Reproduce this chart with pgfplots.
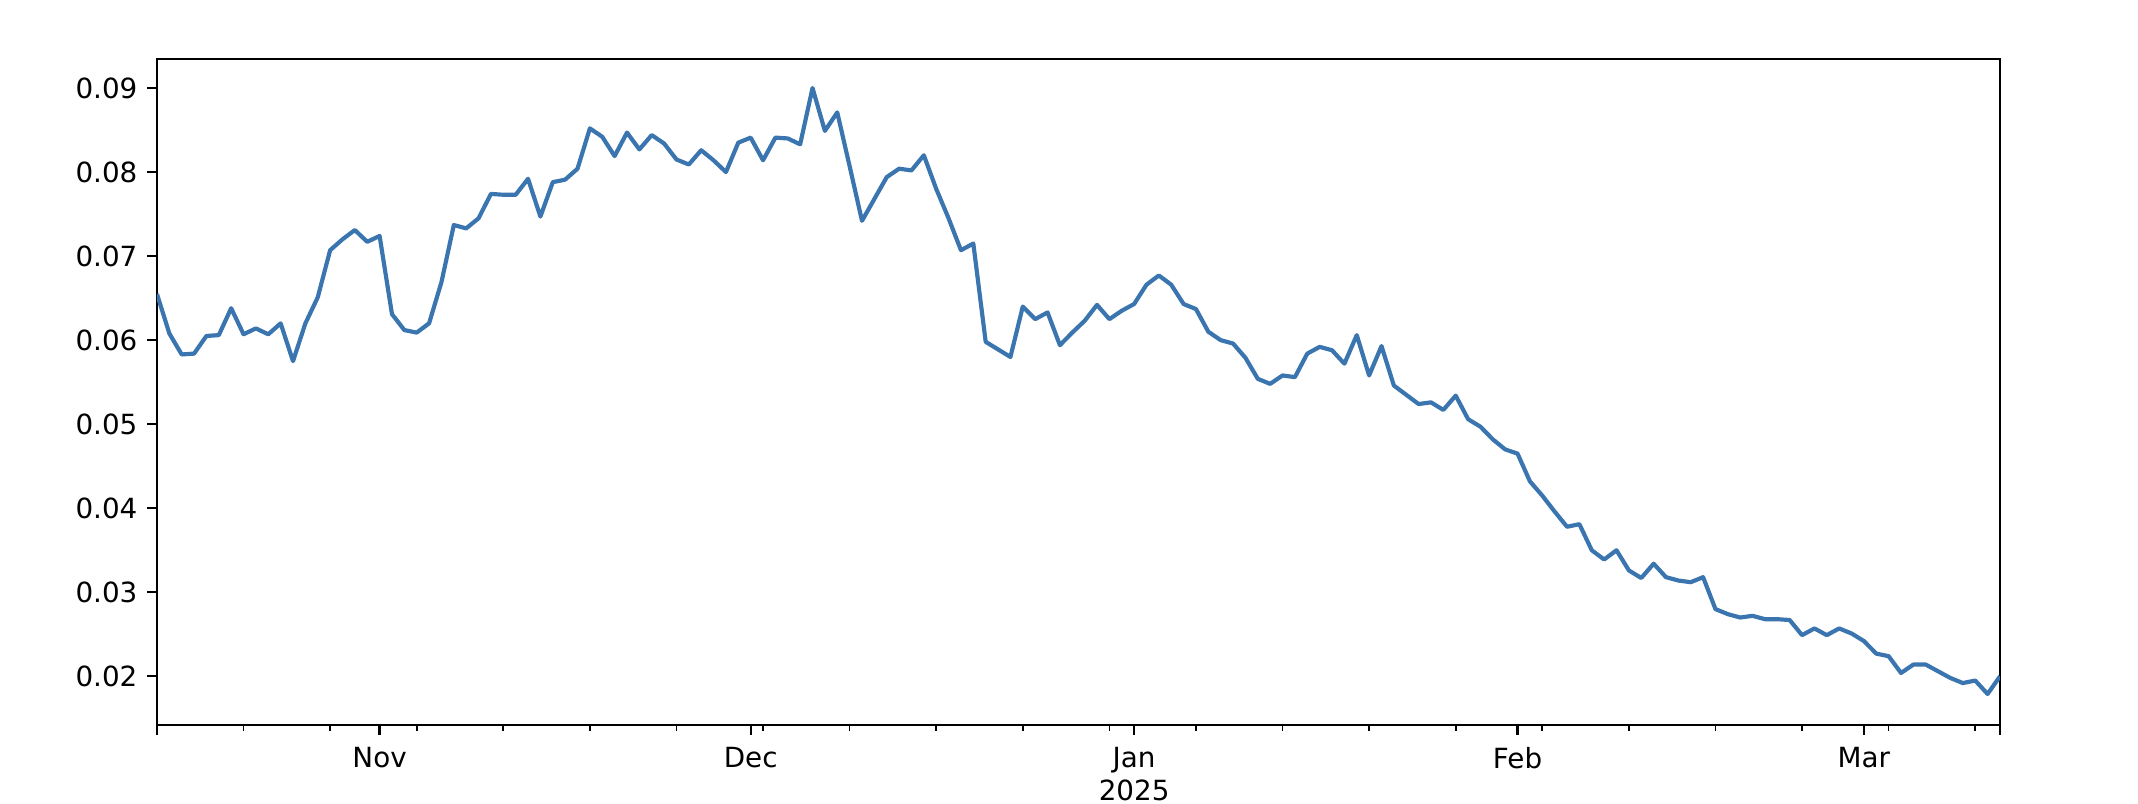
\documentclass[border=0pt]{standalone}
\usepackage{fontspec}
\setmainfont{DejaVu Sans}
\usepackage{pgfplots}
\pgfplotsset{compat=1.18}
\definecolor{lineblue}{RGB}{58,117,175}
\begin{document}
\begin{tikzpicture}
\begin{axis}[
  name=ax,
  scale only axis,
  width=663.4pt, height=239.9pt,
  xmin=0, xmax=149,
  ymin=0.0142, ymax=0.0935,
  axis line style={line width=0.8pt},
  tick align=outside,
  tick pos=left,
  major tick length=3.5pt,
  minor tick length=2pt,
  every tick/.style={black, line width=0.8pt},
  every minor tick/.style={black, line width=0.6pt},
  xtick={0,18,48,79,110,138,149},
  xticklabels={{},Nov,Dec,{Jan\\2025},Feb,Mar,{}},
  minor xtick={7,14,21,28,35,42,49,56,63,70,77,84,91,98,105,112,119,126,133,140,147},
  ytick={0.02,0.03,0.04,0.05,0.06,0.07,0.08,0.09},
  yticklabel style={/pgf/number format/.cd, fixed, fixed zerofill, precision=2, assume math mode=true},
  xticklabel style={align=center, font=\fontsize{10}{12}\selectfont, yshift=-1pt},
  ticklabel style={font=\fontsize{10}{12}\selectfont},
  scaled y ticks=false,
  clip=true,
]
\addplot[lineblue, line width=1.5pt, line join=round, mark=none] table {
x y
0 0.0655
1 0.0608
2 0.0583
3 0.0584
4 0.0605
5 0.0606
6 0.0638
7 0.0607
8 0.0614
9 0.0607
10 0.0620
11 0.0575
12 0.0620
13 0.0651
14 0.0707
15 0.0720
16 0.0731
17 0.0717
18 0.0724
19 0.0631
20 0.0612
21 0.0609
22 0.0620
23 0.0669
24 0.0737
25 0.0733
26 0.0745
27 0.0774
28 0.0773
29 0.0773
30 0.0792
31 0.0747
32 0.0788
33 0.0791
34 0.0804
35 0.0852
36 0.0842
37 0.0819
38 0.0847
39 0.0827
40 0.0844
41 0.0834
42 0.0815
43 0.0809
44 0.0826
45 0.0814
46 0.0800
47 0.0835
48 0.0841
49 0.0814
50 0.0841
51 0.0840
52 0.0833
53 0.0900
54 0.0849
55 0.0871
56 0.0807
57 0.0742
58 0.0768
59 0.0794
60 0.0804
61 0.0802
62 0.0820
63 0.0780
64 0.0745
65 0.0707
66 0.0715
67 0.0598
68 0.0589
69 0.0580
70 0.0640
71 0.0625
72 0.0633
73 0.0594
74 0.0609
75 0.0623
76 0.0642
77 0.0625
78 0.0635
79 0.0643
80 0.0666
81 0.0677
82 0.0666
83 0.0643
84 0.0637
85 0.0610
86 0.0600
87 0.0596
88 0.0579
89 0.0554
90 0.0548
91 0.0558
92 0.0556
93 0.0584
94 0.0592
95 0.0588
96 0.0572
97 0.0606
98 0.0558
99 0.0593
100 0.0546
101 0.0535
102 0.0524
103 0.0526
104 0.0517
105 0.0534
106 0.0506
107 0.0497
108 0.0482
109 0.0470
110 0.0465
111 0.0432
112 0.0415
113 0.0396
114 0.0378
115 0.0381
116 0.0350
117 0.0339
118 0.0350
119 0.0326
120 0.0317
121 0.0334
122 0.0318
123 0.0314
124 0.0312
125 0.0318
126 0.0280
127 0.0274
128 0.0270
129 0.0272
130 0.0268
131 0.0268
132 0.0267
133 0.0249
134 0.0257
135 0.0249
136 0.0257
137 0.0251
138 0.0242
139 0.0227
140 0.0224
141 0.0204
142 0.0214
143 0.0214
144 0.0206
145 0.0198
146 0.0192
147 0.0195
148 0.0179
149 0.0200
};
\end{axis}
\pgfresetboundingbox
\path[use as bounding box] ([shift={(-56.5pt,-28.4pt)}]ax.south west) rectangle ([shift={(49.7pt,21.1pt)}]ax.north east);
\end{tikzpicture}
\end{document}
